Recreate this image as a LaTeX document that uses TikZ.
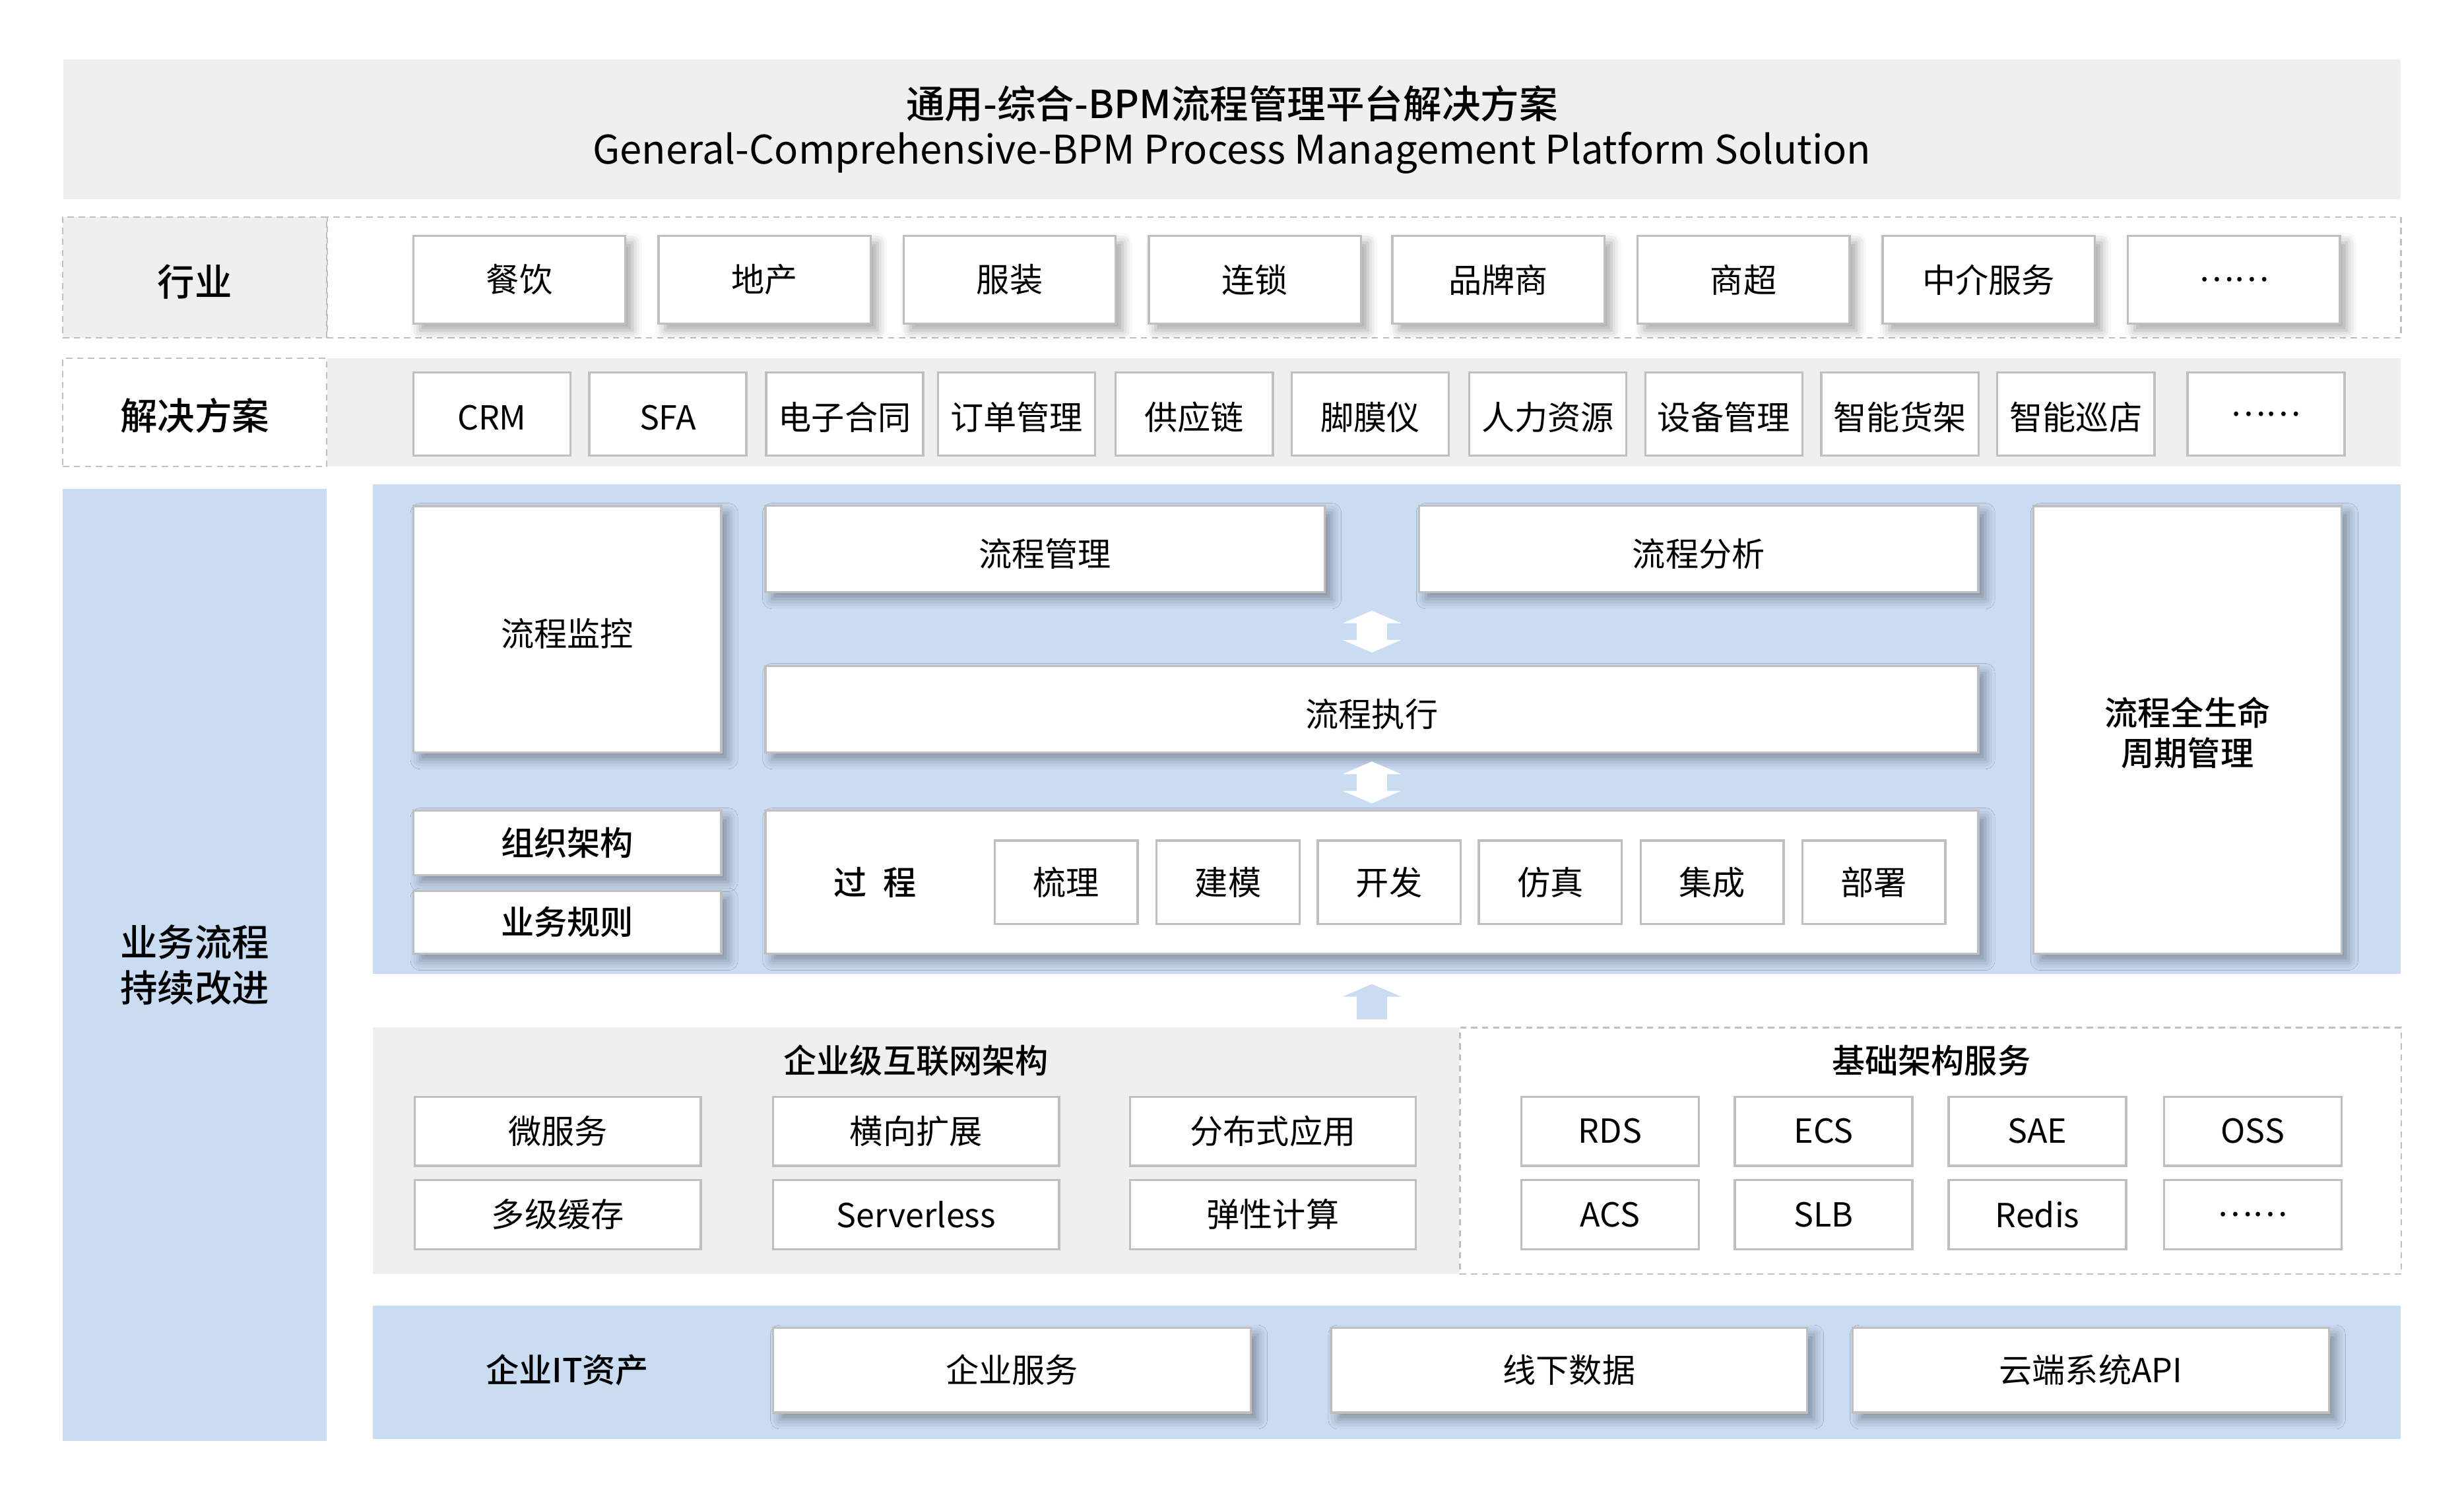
\documentclass[tikz,border=0pt]{standalone}
\usepackage{fontspec}
\setmainfont{Noto Sans CJK SC}[BoldFont={* Medium}]
\usetikzlibrary{arrows.meta,shadows.blur}
\definecolor{bandgray}{HTML}{EFEFEF}
\definecolor{bandblue}{HTML}{CADCF2}
\definecolor{linegray}{HTML}{BFBFBF}
\tikzset{
  band/.style={fill=bandgray, inner sep=0pt},
  zone/.style={fill=bandblue, inner sep=0pt},
  cell/.style={draw=linegray, line width=0.5pt, dash pattern=on 0.08cm off 0.06cm, inner sep=0pt},
  head/.style={font=\bfseries\fontsize{13.5}{16.5}\selectfont, align=center},
  sub/.style={font=\bfseries\fontsize{12}{14.7}\selectfont, align=center},
  tag/.style={draw=linegray, fill=white, line width=0.8pt, inner sep=0pt, font=\fontsize{12}{14}\selectfont},
  shtag/.style={tag, blur shadow={shadow xshift=2.5pt, shadow yshift=-2.5pt, shadow blur radius=3.5pt, shadow opacity=35}},
  low/.style={text height=13.5pt, text depth=1pt},
  lowish/.style={text height=12.5pt, text depth=1pt},
  dbl/.style={white, line width=0.38cm, {Triangle[width=0.74cm,length=0.16cm]}-{Triangle[width=0.74cm,length=0.16cm]}},
  up/.style={bandblue, line width=0.38cm, -{Triangle[width=0.74cm,length=0.16cm]}}
}
\begin{document}
\begin{tikzpicture}[x=0.02cm,y=-0.02cm]
  \useasboundingbox (0,0) rectangle (1568,955);
  \node[band, minimum width=29.76cm, minimum height=1.78cm, align=center,
    font=\fontsize{14}{16.5}\selectfont] (title) at (784,82.5)
    {\textbf{通用-综合-BPM流程管理平台解决方案}\\\fontsize{14.3}{16.5}\selectfont General-Comprehensive-BPM Process Management Platform Solution};

  \node[cell, fill=bandgray, minimum width=3.36cm, minimum height=1.54cm] (ind) at (124,176.5) {};
  \node[head] (indt) at (124,179.5) {行业};
  \node[cell, minimum width=26.4cm, minimum height=1.54cm] (indrow) at (868,176.5) {};
  \node[band, minimum width=26.4cm, minimum height=1.38cm] (solrow) at (868,262.5) {};
  \node[cell, minimum width=3.36cm, minimum height=1.38cm] (sol) at (124,262.5) {};
  \node[head] (solt) at (124,264.5) {解决方案};

  \node[zone, minimum width=3.36cm, minimum height=12.12cm, head] (imp) at (124,614) {业务流程\\持续改进};
  \node[zone, minimum width=25.82cm, minimum height=6.24cm] (mid) at (882.5,464) {};
  \node[band, minimum width=13.84cm, minimum height=3.14cm] (ent) at (583,732.5) {};
  \node[cell, minimum width=11.98cm, minimum height=3.14cm] (infra) at (1228.5,732.5) {};
  \node[zone, minimum width=25.82cm, minimum height=1.7cm] (it) at (882.5,873.5) {};

  \node[shtag, minimum width=2.7cm, minimum height=1.12cm] (i1) at (330.5,178) {餐饮};
  \node[shtag, minimum width=2.7cm, minimum height=1.12cm] (i2) at (486.5,178) {地产};
  \node[shtag, minimum width=2.7cm, minimum height=1.12cm] (i3) at (642.5,178) {服装};
  \node[shtag, minimum width=2.7cm, minimum height=1.12cm] (i4) at (798.5,178) {连锁};
  \node[shtag, minimum width=2.7cm, minimum height=1.12cm] (i5) at (953.5,178) {品牌商};
  \node[shtag, minimum width=2.7cm, minimum height=1.12cm] (i6) at (1109.5,178) {商超};
  \node[shtag, minimum width=2.7cm, minimum height=1.12cm] (i7) at (1265.5,178) {中介服务};
  \node[shtag, minimum width=2.7cm, minimum height=1.12cm] (i8) at (1421.5,178) {……};

  \node[tag, lowish, minimum width=2cm, minimum height=1.06cm] (s1) at (313,263.5) {CRM};
  \node[tag, lowish, minimum width=2cm, minimum height=1.06cm] (s2) at (425,263.5) {SFA};
  \node[tag, lowish, minimum width=2cm, minimum height=1.06cm] (s3) at (537.5,263.5) {电子合同};
  \node[tag, lowish, minimum width=2cm, minimum height=1.06cm] (s4) at (647,263.5) {订单管理};
  \node[tag, lowish, minimum width=2cm, minimum height=1.06cm] (s5) at (760,263.5) {供应链};
  \node[tag, lowish, minimum width=2cm, minimum height=1.06cm] (s6) at (872,263.5) {脚膜仪};
  \node[tag, lowish, minimum width=2cm, minimum height=1.06cm] (s7) at (985,263.5) {人力资源};
  \node[tag, lowish, minimum width=2cm, minimum height=1.06cm] (s8) at (1097,263.5) {设备管理};
  \node[tag, lowish, minimum width=2cm, minimum height=1.06cm] (s9) at (1209,263.5) {智能货架};
  \node[tag, lowish, minimum width=2cm, minimum height=1.06cm] (s10) at (1321,263.5) {智能巡店};
  \node[tag, minimum width=2cm, minimum height=1.06cm] (s11) at (1442,263.5) {……};

  \node[shtag, low, minimum width=3.92cm, minimum height=3.14cm] (mon) at (361,400.5) {流程监控};
  \node[shtag, low, minimum width=7.12cm, minimum height=1.1cm] (mgmt) at (665,349.5) {流程管理};
  \node[shtag, low, minimum width=7.12cm, minimum height=1.1cm] (ana) at (1081,349.5) {流程分析};
  \node[shtag, low, minimum width=15.44cm, minimum height=1.1cm] (exec) at (873,451.5) {流程执行};
  \node[shtag, sub, minimum width=3.92cm, minimum height=0.82cm] (org) at (361,536.5) {组织架构};
  \node[shtag, sub, minimum width=3.92cm, minimum height=0.8cm] (rule) at (361,587) {业务规则};
  \node[shtag, minimum width=15.44cm, minimum height=1.82cm] (proc) at (873,561.5) {};
  \node[sub] (proct) at (557,561.5) {过\enspace 程};
  \node[tag, minimum width=1.82cm, minimum height=1.06cm] (p1) at (678.5,561.5) {梳理};
  \node[tag, minimum width=1.82cm, minimum height=1.06cm] (p2) at (781.5,561.5) {建模};
  \node[tag, minimum width=1.82cm, minimum height=1.06cm] (p3) at (884,561.5) {开发};
  \node[tag, minimum width=1.82cm, minimum height=1.06cm] (p4) at (986.5,561.5) {仿真};
  \node[tag, minimum width=1.82cm, minimum height=1.06cm] (p5) at (1089.5,561.5) {集成};
  \node[tag, minimum width=1.82cm, minimum height=1.06cm] (p6) at (1192.5,561.5) {部署};
  \node[shtag, minimum width=3.92cm, minimum height=5.7cm] (life) at (1392,464.5) {};
  \node[sub] (lifet) at (1392,466.5) {流程全生命\\周期管理};

  \node[sub] (entt) at (583,675) {企业级互联网架构};
  \node[tag, minimum width=3.64cm, minimum height=0.88cm] (e1) at (355,720) {微服务};
  \node[tag, minimum width=3.64cm, minimum height=0.88cm] (e2) at (583,720) {横向扩展};
  \node[tag, minimum width=3.64cm, minimum height=0.88cm] (e3) at (810,720) {分布式应用};
  \node[tag, minimum width=3.64cm, minimum height=0.88cm] (e4) at (355,773) {多级缓存};
  \node[tag, minimum width=3.64cm, minimum height=0.88cm] (e5) at (583,773) {Serverless};
  \node[tag, minimum width=3.64cm, minimum height=0.88cm] (e6) at (810,773) {弹性计算};

  \node[sub] (infrat) at (1229,675) {基础架构服务};
  \node[tag, minimum width=2.26cm, minimum height=0.88cm] (f1) at (1024.5,720) {RDS};
  \node[tag, minimum width=2.26cm, minimum height=0.88cm] (f2) at (1160.5,720) {ECS};
  \node[tag, minimum width=2.26cm, minimum height=0.88cm] (f3) at (1296.5,720) {SAE};
  \node[tag, minimum width=2.26cm, minimum height=0.88cm] (f4) at (1433.5,720) {OSS};
  \node[tag, minimum width=2.26cm, minimum height=0.88cm] (f5) at (1024.5,773) {ACS};
  \node[tag, minimum width=2.26cm, minimum height=0.88cm] (f6) at (1160.5,773) {SLB};
  \node[tag, minimum width=2.26cm, minimum height=0.88cm] (f7) at (1296.5,773) {Redis};
  \node[tag, minimum width=2.26cm, minimum height=0.88cm] (f8) at (1433.5,773) {……};

  \node[sub] (itt) at (361,872) {企业IT资产};
  \node[shtag, minimum width=6.08cm, minimum height=1.08cm] (t1) at (644,872) {企业服务};
  \node[shtag, minimum width=6.06cm, minimum height=1.08cm] (t2) at (998.5,872) {线下数据};
  \node[shtag, minimum width=6.06cm, minimum height=1.08cm] (t3) at (1330.5,872) {云端系统API};

  \begin{scope}[xshift=0.04cm]
    \draw[dbl, shorten <=0.22cm, shorten >=0.16cm] (exec.north |- mgmt.south) -- (exec.north);
    \draw[dbl, shorten <=0.1cm, shorten >=0.08cm] (exec.south) -- (proc.north);
    \draw[up, shorten <=0.1cm, shorten >=0.12cm] (exec.south |- ent.north) -- (exec.south |- mid.south);
  \end{scope}
\end{tikzpicture}
\end{document}
